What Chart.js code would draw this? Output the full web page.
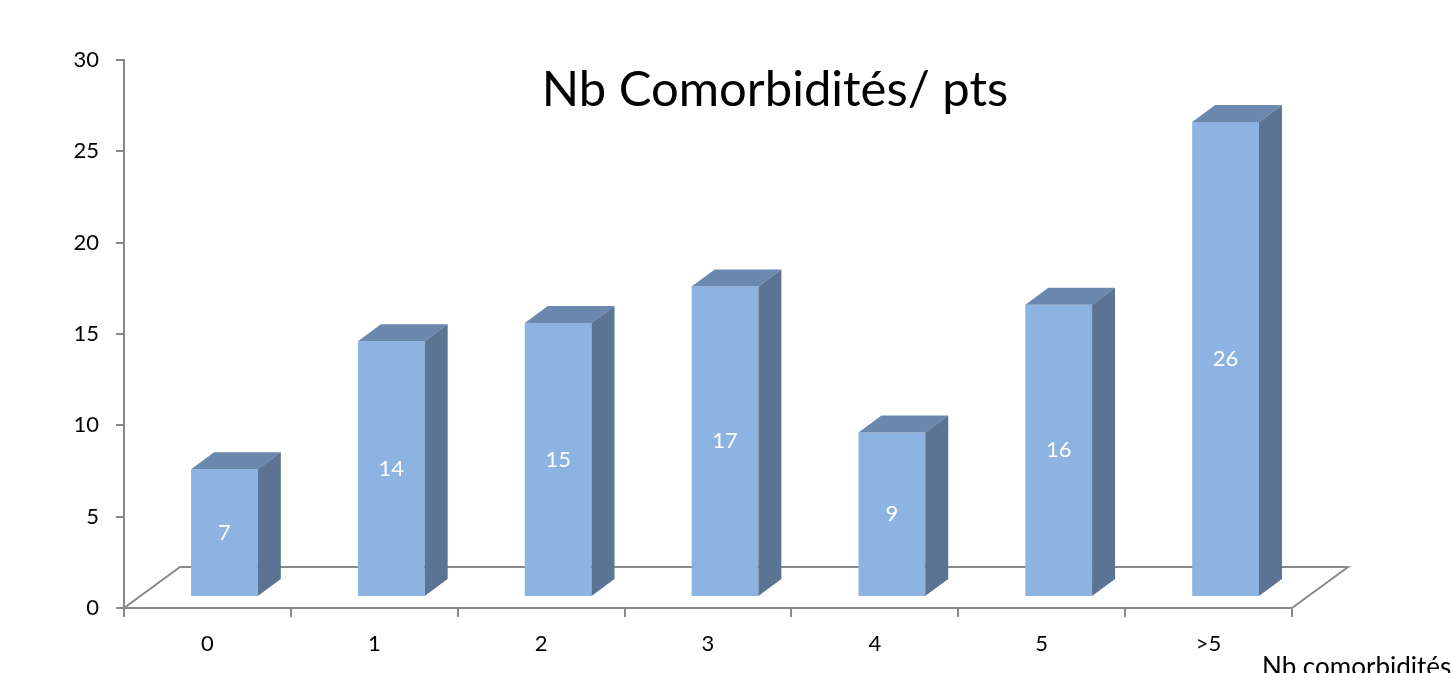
<!DOCTYPE html>
<html>
<head>
<meta charset="utf-8">
<script src="https://cdn.jsdelivr.net/npm/chart.js@4.4.1/dist/chart.umd.min.js"></script>
<style>
  html,body{margin:0;padding:0;background:#fff;}
  #wrap{width:1451px;height:673px;}
</style>
</head>
<body>
<div id="wrap"><canvas id="c" width="1451" height="673"></canvas></div>
<script>
const categories = ["0","1","2","3","4","5",">5"];
const counts = [7,14,15,17,9,16,26];
const yTicks = [0,5,10,15,20,25,30];
const chartTitle = "Nb Comorbidités/ pts";
const xTitle = "Nb comorbidités";

const FONT = "Lato, 'Open Sans', sans-serif";
const AXIS = "#898989";
// 3d look: floor depth, bar shift, bar depth
const FLOOR_DX = 56, FLOOR_DY = -41;
const SHIFT_X = 17, SHIFT_Y = -11;
const DEPTH_X = 23, DEPTH_Y = -17;

function poly(ctx, pts, fill){
  ctx.beginPath();
  ctx.moveTo(pts[0][0], pts[0][1]);
  for(let i=1;i<pts.length;i++) ctx.lineTo(pts[i][0], pts[i][1]);
  ctx.closePath();
  ctx.fillStyle = fill;
  ctx.fill();
}

const bar3d = {
  id: "bar3d",
  beforeDatasetsDraw(chart){
    const {ctx, chartArea:a} = chart;
    // floor
    ctx.save();
    ctx.strokeStyle = AXIS;
    ctx.lineWidth = 2;
    ctx.beginPath();
    ctx.moveTo(a.left, a.bottom);
    ctx.lineTo(a.left+FLOOR_DX, a.bottom+FLOOR_DY);
    ctx.lineTo(a.right+FLOOR_DX, a.bottom+FLOOR_DY);
    ctx.lineTo(a.right, a.bottom);
    ctx.stroke();
    ctx.restore();
    ctx.save();
    ctx.translate(SHIFT_X, SHIFT_Y);
  },
  afterDatasetsDraw(chart){
    const {ctx} = chart;
    const meta = chart.getDatasetMeta(0);
    meta.data.forEach((el, i) => {
      const p = el.getProps(["x","y","base","width"], true);
      const l = p.x - p.width/2, r = p.x + p.width/2;
      poly(ctx, [[l,p.y],[l+DEPTH_X,p.y+DEPTH_Y],[r+DEPTH_X,p.y+DEPTH_Y],[r,p.y]], "#6B88AE");
      poly(ctx, [[r,p.y],[r+DEPTH_X,p.y+DEPTH_Y],[r+DEPTH_X,p.base+DEPTH_Y],[r,p.base]], "#5B7494");
      ctx.fillStyle = "#fff";
      ctx.font = "22px " + FONT;
      ctx.textAlign = "center";
      ctx.textBaseline = "middle";
      ctx.fillText(String(counts[i]), p.x, (p.y+p.base)/2);
    });
    ctx.restore();
  },
  afterDraw(chart){
    const {ctx} = chart;
    ctx.save();
    ctx.fillStyle = "#000";
    ctx.font = "49px " + FONT;
    ctx.textAlign = "center";
    ctx.textBaseline = "alphabetic";
    ctx.fillText(chartTitle, 775, 106);
    ctx.font = "26px " + FONT;
    ctx.textAlign = "left";
    ctx.fillText(xTitle, 1262, 676);
    ctx.restore();
  }
};

new Chart(document.getElementById("c"), {
  type: "bar",
  data: {
    labels: categories,
    datasets: [{
      data: counts,
      backgroundColor: "#8DB3E2",
      borderWidth: 0,
      categoryPercentage: 1,
      barPercentage: 0.4
    }]
  },
  options: {
    responsive: false,
    animation: false,
    layout: {padding: {top: 60, right: 159, left: 0, bottom: 0}},
    plugins: {legend: {display: false}, tooltip: {enabled: false}, title: {display: false}},
    scales: {
      y: {
        min: 0, max: 30,
        afterBuildTicks: s => { s.ticks = yTicks.map(v => ({value: v})); },
        afterFit: s => { s.width = 124; },
        ticks: {color: "#000", font: {size: 22, family: FONT}, padding: 17},
        grid: {drawOnChartArea: false, tickLength: 8, color: AXIS, lineWidth: 2},
        border: {color: AXIS, width: 2}
      },
      x: {
        afterFit: s => { s.height = 65; },
        ticks: {color: "#000", font: {size: 22, family: FONT}, padding: 14},
        grid: {drawOnChartArea: false, offset: true, tickLength: 9, color: AXIS, lineWidth: 2},
        border: {color: AXIS, width: 2}
      }
    }
  },
  plugins: [bar3d]
});
</script>
</body>
</html>
